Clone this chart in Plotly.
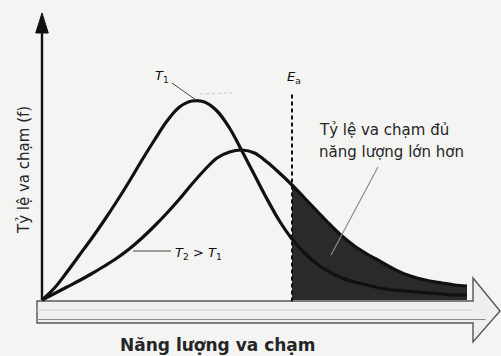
import plotly.graph_objects as go

# Collision energy (arbitrary units) sampled every half unit
energy = [i * 0.5 for i in range(35)]

# Fraction of collisions at each energy, lower temperature T1
frac_t1 = [0.000, 0.048, 0.112, 0.180, 0.248, 0.320, 0.396, 0.476, 0.560, 0.640,
           0.716, 0.772, 0.796, 0.792, 0.756, 0.688, 0.596, 0.500, 0.404, 0.316,
           0.244, 0.188, 0.144, 0.112, 0.088, 0.072, 0.060, 0.048, 0.040, 0.036,
           0.032, 0.028, 0.024, 0.020, 0.020]

# Fraction of collisions at each energy, higher temperature T2
frac_t2 = [0.000, 0.026, 0.052, 0.078, 0.106, 0.136, 0.168, 0.205, 0.248, 0.296,
           0.348, 0.404, 0.464, 0.520, 0.568, 0.592, 0.600, 0.588, 0.552, 0.508,
           0.460, 0.408, 0.356, 0.304, 0.256, 0.216, 0.184, 0.156, 0.128, 0.104,
           0.088, 0.076, 0.068, 0.060, 0.056]

# Activation energy
ea = 10.0

label_t1 = "<i>T</i><sub>1</sub>"
label_t2 = "<i>T</i><sub>2</sub> > <i>T</i><sub>1</sub>"
label_ea = "<i>E</i><sub>a</sub>"
note_lines = ["Tỷ lệ va chạm đủ", "năng lượng lớn hơn"]
y_title = "Tỷ lệ va chạm (f)"
x_title = "Năng lượng va chạm"

FONT = "DejaVu Sans, Liberation Sans, Arial, sans-serif"
INK = "#111111"
TEXT = "#252525"

# Part of the T2 curve beyond the activation energy (shaded)
tail_x = [x for x in energy if x >= ea]
tail_y = [y for x, y in zip(energy, frac_t2) if x >= ea]

fig = go.Figure()

fig.add_trace(go.Scatter(
    x=tail_x, y=tail_y, mode="lines", fill="tozeroy",
    fillcolor="#2a2a2a", line=dict(color="#2a2a2a", width=0, shape="spline"),
    hoverinfo="skip", showlegend=False,
))

for series in (frac_t1, frac_t2):
    fig.add_trace(go.Scatter(
        x=energy, y=series, mode="lines",
        line=dict(color=INK, width=3.2, shape="spline", smoothing=1.0),
        showlegend=False,
    ))

shapes = []

# Vertical axis with arrow head
shapes.append(dict(type="line", xref="x", yref="y", x0=0, x1=0, y0=0, y1=1.08,
                   line=dict(color=INK, width=2.4)))
shapes.append(dict(type="path", xref="x", yref="y",
                   path="M -0.25,1.068 L 0.25,1.068 L 0,1.148 Z",
                   fillcolor=INK, line=dict(color=INK, width=1)))

# Hollow horizontal arrow for the energy axis
xa0, xb, xt = -0.2, 17.24, 18.32
ytop, ybot, yup, ylow, ytip = -0.004, -0.092, 0.088, -0.168, -0.044
shapes.append(dict(
    type="path", xref="x", yref="y", layer="below",
    path=(f"M {xa0},{ytop} L {xb},{ytop} L {xb},{yup} L {xt},{ytip} "
          f"L {xb},{ylow} L {xb},{ybot} L {xa0},{ybot} Z"),
    fillcolor="#efefed", line=dict(color="#555555", width=1.4)))
shapes.append(dict(type="line", xref="x", yref="y", x0=xa0, x1=xb + 0.5,
                   y0=-0.078, y1=-0.078, line=dict(color="#8a8a8a", width=1.2)))
shapes.append(dict(type="line", xref="x", yref="y", x0=xa0, x1=xb,
                   y0=-0.040, y1=-0.040, line=dict(color="#d0d0d0", width=1)))

# Activation energy marker
shapes.append(dict(type="line", xref="x", yref="y", x0=ea, x1=ea, y0=-0.006, y1=0.832,
                   line=dict(color=INK, width=2, dash="4px,3px")))

# Leader lines for the labels
shapes.append(dict(type="line", xref="x", yref="y", x0=5.2, y0=0.868, x1=6.16, y1=0.80,
                   line=dict(color="#444444", width=1)))
shapes.append(dict(type="line", xref="x", yref="y", x0=6.32, y0=0.824, x1=7.6, y1=0.828,
                   line=dict(color="#c8c8c8", width=1, dash="dot")))
shapes.append(dict(type="line", xref="x", yref="y", x0=3.64, y0=0.196, x1=5.16, y1=0.196,
                   line=dict(color="#444444", width=1)))
shapes.append(dict(type="line", xref="x", yref="y", x0=13.44, y0=0.532, x1=11.56, y1=0.18,
                   line=dict(color="#8c8c8c", width=1.2)))

annotations = [
    dict(x=4.8, y=0.896, text=label_t1, showarrow=False,
         font=dict(family=FONT, size=13, color=INK)),
    dict(x=5.24, y=0.188, text=label_t2, showarrow=False, xanchor="left",
         font=dict(family=FONT, size=13, color=INK)),
    dict(x=10.08, y=0.892, text=label_ea, showarrow=False,
         font=dict(family=FONT, size=13, color=INK)),
    dict(x=11.0, y=0.68, text=note_lines[0], showarrow=False, xanchor="left",
         font=dict(family=FONT, size=15, color=TEXT)),
    dict(x=11.0, y=0.592, text=note_lines[1], showarrow=False, xanchor="left",
         font=dict(family=FONT, size=15, color=TEXT)),
    dict(x=-0.72, y=0.52, text=y_title, showarrow=False, textangle=-90,
         font=dict(family=FONT, size=15, color=TEXT)),
    dict(x=7.04, y=-0.18, text=f"<b>{x_title}</b>", showarrow=False,
         font=dict(family=FONT, size=17, color=TEXT)),
]

fig.update_layout(
    width=501, height=356,
    margin=dict(l=0, r=0, t=0, b=0),
    paper_bgcolor="#f4f4f3", plot_bgcolor="#f4f4f3",
    xaxis=dict(range=[-1.68, 18.36], visible=False, showgrid=False, zeroline=False),
    yaxis=dict(range=[-0.224, 1.2], visible=False, showgrid=False, zeroline=False),
    shapes=shapes, annotations=annotations,
)

fig.write_html("out.html")
